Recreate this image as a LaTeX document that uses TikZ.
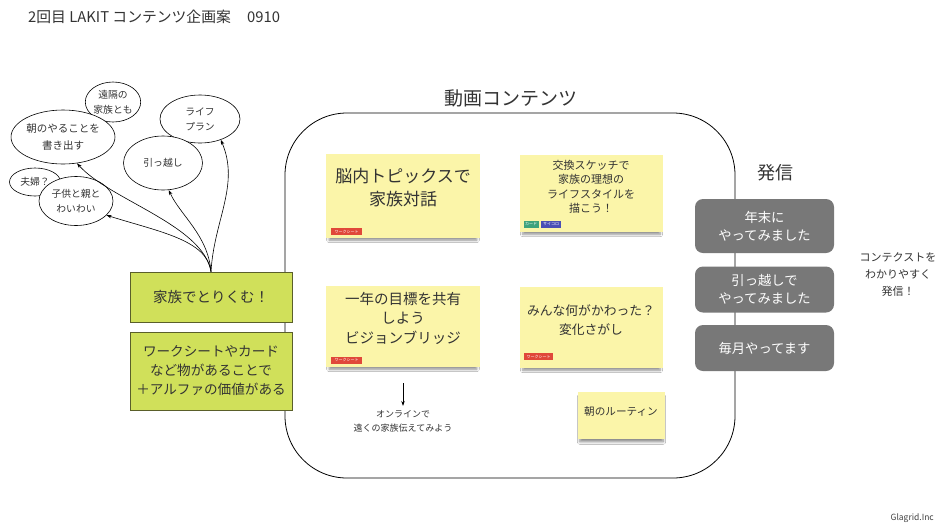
\documentclass[tikz,border=0pt]{standalone}
\usepackage{fontspec}
\setmainfont{Noto Sans CJK JP}
\usetikzlibrary{shapes.geometric,shadows,shadows.blur,arrows.meta}
\definecolor{txt}{HTML}{333333}
\definecolor{stickyc}{HTML}{FBF5A9}
\definecolor{limec}{HTML}{D0E05A}
\definecolor{limeb}{HTML}{5A5F2A}
\definecolor{grayb}{HTML}{787878}
\definecolor{tagred}{HTML}{E0483A}
\definecolor{taggreen}{HTML}{3FA37C}
\definecolor{tagblue}{HTML}{4A4FB5}
\newcommand\myfs[2]{\fontsize{#1}{#2}\selectfont}
\begin{document}
\begin{tikzpicture}[x=1pt,y=-1pt,
  every node/.style={text=txt},
  bubble/.style={ellipse, draw=black, line width=0.6pt, fill=white, inner sep=0pt, align=center, font=\myfs{9.8}{15}},
  sticky/.style={rectangle, fill=stickyc, inner sep=0pt,
    blur shadow={shadow xshift=0pt, shadow yshift=-4pt, shadow scale=0.96, shadow blur steps=6, shadow blur radius=2.5pt, shadow opacity=45}},
  stext/.style={align=center, inner sep=0pt},
  tagbox/.style={rectangle, inner sep=0pt, minimum height=7pt, text=white, font=\myfs{4}{4}},
  limebox/.style={rectangle, fill=limec, draw=limeb, line width=0.8pt, minimum width=162pt, align=center, inner sep=0pt},
  graybox/.style={rectangle, fill=grayb, rounded corners=8pt, minimum width=139pt, align=center, inner sep=0pt, text=white, font=\myfs{13.3}{18}},
  conn/.style={-{Stealth[length=5pt,width=3.5pt]}, line width=0.6pt, black}
]
\path[use as bounding box, fill=white] (0,0) rectangle (949,528);

% title
\node[anchor=west, inner sep=0pt, font=\myfs{14.8}{16}] (title) at (28,17) {2回目 LAKIT コンテンツ企画案\hspace{1.1em}0910};

% frame
\node[draw=black, line width=0.8pt, rounded corners=62pt, minimum width=450pt, minimum height=365pt, inner sep=0pt] (frame) at (510,295.5) {};
\node[font=\myfs{19}{20}, inner sep=0pt] (frametitle) at (511,98) {動画コンテンツ};

% sticky notes
\node[sticky, minimum width=154pt, minimum height=84pt] (s1) at (403,196) {};
\node[stext, font=\myfs{17}{23}] (t1) at (403,188) {脳内トピックスで\\家族対話};
\node[tagbox, fill=tagred, minimum width=31pt] (tag1) at (346.5,231.5) {ワークシート};

\node[sticky, minimum width=143pt, minimum height=77pt] (s2) at (591.5,193.5) {};
\node[stext, font=\myfs{11}{14.5}] (t2) at (591,187) {交換スケッチで\\家族の理想の\\ライフスタイルを\\描こう！};
\node[tagbox, fill=taggreen, minimum width=15pt] (tag2) at (531,224) {カード};
\node[tagbox, fill=tagblue, minimum width=20pt] (tag3) at (551,224) {サイコロ};

\node[sticky, minimum width=154pt, minimum height=81pt] (s3) at (403,326.5) {};
\node[stext, font=\myfs{14.5}{19.5}] (t3) at (403,318) {一年の目標を共有\\しよう\\ビジョンブリッジ};
\node[tagbox, fill=tagred, minimum width=31pt] (tag4) at (346.5,360) {ワークシート};

\node[sticky, minimum width=143pt, minimum height=81pt] (s4) at (591.5,327.5) {};
\node[stext, font=\myfs{12.8}{19}] (t4) at (591,320) {みんな何がかわった？\\変化さがし};
\node[tagbox, fill=tagred, minimum width=29pt] (tag5) at (538.5,356.5) {ワークシート};

\node[sticky, minimum width=87pt, minimum height=47pt] (s5) at (621.5,415.5) {};
\node[stext, font=\myfs{10.6}{12}] (t5) at (621,411) {朝のルーティン};

% online note
\coordinate (arrtop) at (403,383);
\node[stext, font=\myfs{9}{14}] (online) at (403,421) {オンラインで\\遠くの家族伝えてみよう};
\draw[conn] (arrtop) -- ([yshift=4pt]online.north);

% lime boxes
\node[limebox, minimum height=50pt, font=\myfs{14.5}{16}] (g1) at (211,297) {家族でとりくむ！};
\node[limebox, minimum height=78pt, font=\myfs{13.6}{19}] (g2) at (211,371) {ワークシートやカード\\など物があることで\\＋アルファの価値がある};

% bubbles
\node[bubble, minimum width=50pt, minimum height=40pt] (b1) at (113,102) {遠隔の\\家族とも};
\node[bubble, minimum width=97pt, minimum height=54pt, font=\myfs{10.5}{17}] (b2) at (63,137) {朝のやることを\\書き出す};
\node[bubble, minimum width=80pt, minimum height=48pt] (b3) at (200,119) {ライフ\\プラン};
\node[bubble, minimum width=79pt, minimum height=54pt] (b4) at (163,163) {引っ越し};
\node[bubble, minimum width=51pt, minimum height=28pt] (b5) at (35,182) {夫婦？};
\node[bubble, minimum width=74pt, minimum height=49pt] (b6) at (76,201) {子供と親と\\わいわい};

% connectors
\draw[conn] (g1.north) .. controls (207,240) and (160,232) .. (b6.-25);
\draw[conn] (g1.north) .. controls (203,225) and (110,200) .. (b2.-62);
\draw[conn] (g1.north) .. controls (208,235) and (180,215) .. (b4.-78);
\draw[conn] (g1.north) .. controls (214,220) and (240,185) .. (b3.-45);

% right side
\node[font=\myfs{18}{20}, inner sep=0pt] (hs) at (775,173) {発信};
\node[graybox, minimum height=54pt] (r1) at (764.5,226) {年末に\\やってみました};
\node[graybox, minimum height=46pt] (r2) at (764.5,289.5) {引っ越しで\\やってみました};
\node[graybox, minimum height=46pt] (r3) at (764.5,348) {毎月やってます};
\node[stext, font=\myfs{11}{17}] (ctx) at (898,275) {コンテクストを\\わかりやすく\\発信！};

\node[anchor=east, inner sep=0pt, font=\myfs{8.5}{10}, text=black!75] (logo) at (934,518) {Glagrid.Inc};
\end{tikzpicture}
\end{document}
